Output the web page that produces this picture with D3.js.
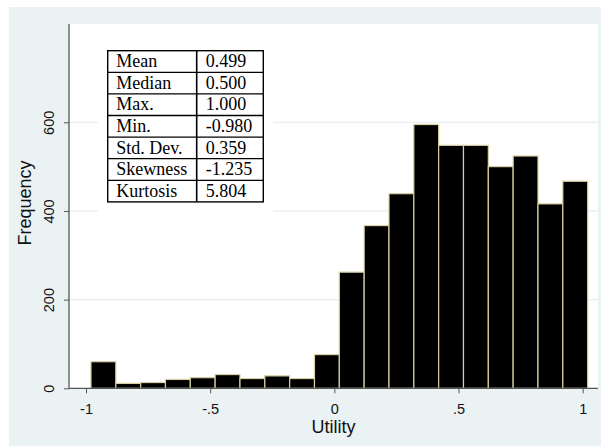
<!DOCTYPE html>
<html>
<head>
<meta charset="utf-8">
<script src="https://cdn.jsdelivr.net/npm/d3@7"></script>
<style>
  body { margin: 0; background: #fff; }
  svg { display: block; }
</style>
</head>
<body>
<div id="chart"></div>
<script>
// histogram bins: start at min, width 0.1
const binStart = -0.98;
const binWidth = 0.1;
const counts = [60, 11, 13, 20, 24, 31, 22, 28, 22, 76,
  262, 367, 439, 595, 548, 548, 500, 524, 416, 467];

const xTicks = [-1, -0.5, 0, 0.5, 1];
const xTickLabels = ['-1', '-.5', '0', '.5', '1'];
const yTicks = [0, 200, 400, 600];

const statNames = ['Mean', 'Median', 'Max.', 'Min.', 'Std. Dev.', 'Skewness', 'Kurtosis'];
const statValues = ['0.499', '0.500', '1.000', '-0.980', '0.359', '-1.235', '5.804'];

const width = 601, height = 446;
const plot = {left: 69, right: 598, top: 24, bottom: 388.3};
const sans = '"Liberation Sans", Arial, sans-serif';
const serif = '"Liberation Serif", "Times New Roman", serif';

const svg = d3.select('#chart').append('svg')
  .attr('width', width)
  .attr('height', height);

// outer panel
svg.append('rect')
  .attr('x', 9).attr('y', 7)
  .attr('width', width - 9).attr('height', height - 7)
  .attr('fill', '#eaf2f3');

// plot region
svg.append('rect')
  .attr('x', plot.left).attr('y', plot.top)
  .attr('width', plot.right - plot.left)
  .attr('height', plot.bottom - plot.top)
  .attr('fill', '#ffffff');

const x = d3.scaleLinear().domain([-1, 1]).range([86, 582.7]);
const y = d3.scaleLinear().domain([0, 600]).range([plot.bottom, 122.3]);

// gridlines
svg.append('g')
  .selectAll('line')
  .data(yTicks.filter(d => d > 0))
  .enter()
  .append('line')
  .attr('x1', plot.left).attr('x2', plot.right)
  .attr('y1', d => y(d)).attr('y2', d => y(d))
  .attr('stroke', '#e6eef0')
  .attr('stroke-width', 1.2);

// bars
svg.append('g')
  .selectAll('rect')
  .data(counts)
  .enter()
  .append('rect')
  .attr('x', (d, i) => x(binStart + i * binWidth))
  .attr('y', d => y(d))
  .attr('width', (d, i) => x(binStart + (i + 1) * binWidth) - x(binStart + i * binWidth))
  .attr('height', d => y(0) - y(d))
  .attr('fill', '#000')
  .attr('stroke', '#d8d0a2')
  .attr('stroke-width', 1.2);

// axes
const xAxis = d3.axisBottom(x)
  .tickValues(xTicks)
  .tickFormat((d, i) => xTickLabels[i])
  .tickSize(5);
const gx = svg.append('g')
  .attr('transform', `translate(0,${plot.bottom})`)
  .call(xAxis);
gx.select('.domain').remove();
gx.append('line')
  .attr('x1', plot.left).attr('x2', plot.right)
  .attr('stroke', '#555').attr('stroke-width', 1.3);
gx.selectAll('.tick line').attr('stroke', '#555');
gx.selectAll('.tick text')
  .attr('fill', '#111')
  .attr('y', 25.7).attr('dy', 0)
  .style('font-family', sans)
  .style('font-size', '14.5px');

const yAxis = d3.axisLeft(y)
  .tickValues(yTicks)
  .tickSize(5);
const gy = svg.append('g')
  .attr('transform', `translate(${plot.left},0)`)
  .call(yAxis);
gy.select('.domain').remove();
gy.append('line')
  .attr('y1', plot.top).attr('y2', plot.bottom)
  .attr('stroke', '#555').attr('stroke-width', 1.3);
gy.selectAll('.tick line').attr('stroke', '#555');
gy.selectAll('.tick text')
  .attr('fill', '#111')
  .attr('x', 0).attr('dy', 0)
  .attr('transform', 'translate(-15.5,0) rotate(-90)')
  .attr('text-anchor', 'middle')
  .style('font-family', sans)
  .style('font-size', '14.5px');

// axis titles
svg.append('text')
  .attr('x', (plot.left + plot.right) / 2).attr('y', 433.3)
  .attr('text-anchor', 'middle')
  .attr('fill', '#111')
  .style('font-family', sans)
  .style('font-size', '18px')
  .text('Utility');
svg.append('text')
  .attr('transform', `translate(30.7,203) rotate(-90)`)
  .attr('text-anchor', 'middle')
  .attr('fill', '#111')
  .style('font-family', sans)
  .style('font-size', '18px')
  .text('Frequency');

// stats table
const tbl = {left: 107.7, top: 50.7, col: 196.7, right: 263.3, rowH: 21.6};
const tg = svg.append('g');
tg.append('rect')
  .attr('x', tbl.left - 10).attr('y', tbl.top - 10)
  .attr('width', tbl.right - tbl.left + 20)
  .attr('height', tbl.rowH * statNames.length + 20)
  .attr('fill', '#fff');
tg.append('rect')
  .attr('x', tbl.left).attr('y', tbl.top)
  .attr('width', tbl.right - tbl.left)
  .attr('height', tbl.rowH * statNames.length)
  .attr('fill', 'none')
  .attr('stroke', '#000').attr('stroke-width', 1.4);
tg.append('line')
  .attr('x1', tbl.col).attr('x2', tbl.col)
  .attr('y1', tbl.top).attr('y2', tbl.top + tbl.rowH * statNames.length)
  .attr('stroke', '#000').attr('stroke-width', 1.6);
tg.selectAll('line.row')
  .data(d3.range(1, statNames.length))
  .enter()
  .append('line')
  .attr('class', 'row')
  .attr('x1', tbl.left).attr('x2', tbl.right)
  .attr('y1', d => tbl.top + d * tbl.rowH)
  .attr('y2', d => tbl.top + d * tbl.rowH)
  .attr('stroke', '#000').attr('stroke-width', 1.3);
tg.selectAll('text.name')
  .data(statNames)
  .enter()
  .append('text')
  .attr('class', 'name')
  .attr('x', tbl.left + 8.5)
  .attr('y', (d, i) => tbl.top + i * tbl.rowH + 16.5)
  .style('font-family', serif)
  .style('font-size', '18px')
  .text(d => d);
tg.selectAll('text.value')
  .data(statValues)
  .enter()
  .append('text')
  .attr('class', 'value')
  .attr('x', tbl.col + 9)
  .attr('y', (d, i) => tbl.top + i * tbl.rowH + 16.5)
  .style('font-family', serif)
  .style('font-size', '18px')
  .text(d => d);
</script>
</body>
</html>
